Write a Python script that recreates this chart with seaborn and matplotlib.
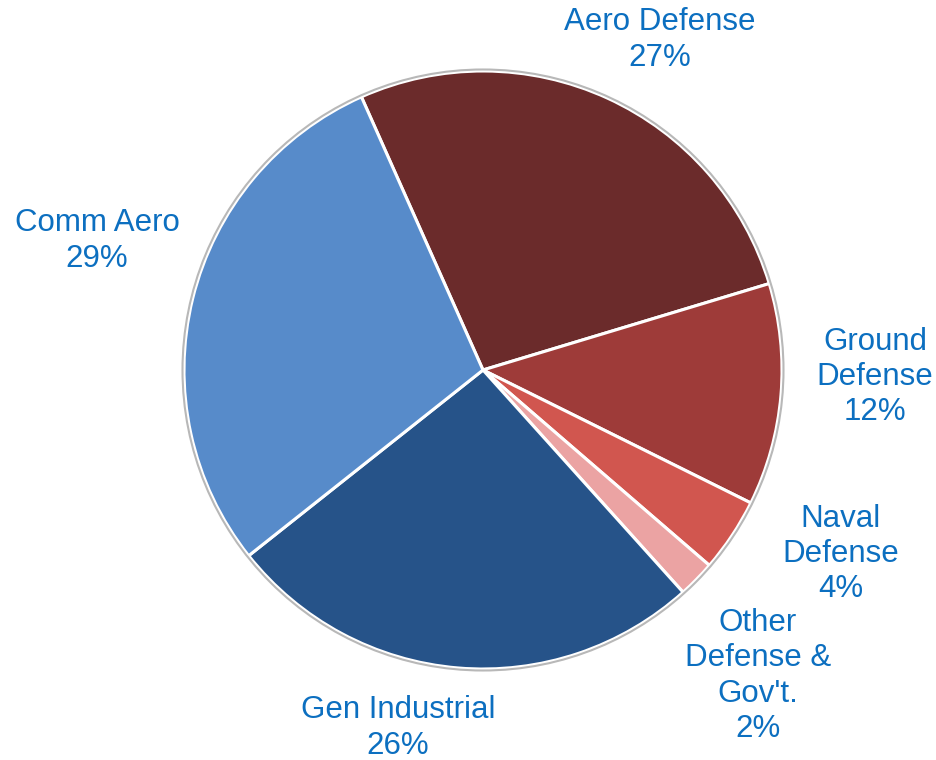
import matplotlib
matplotlib.use("Agg")
import matplotlib.pyplot as plt
import seaborn as sns

sns.set_theme(style="white")
plt.rcParams['font.family'] = ['Liberation Sans', 'DejaVu Sans']

categories = ["Aero Defense", "Ground Defense", "Naval Defense",
              "Other Defense & Gov't.", "Gen Industrial", "Comm Aero"]
values = [27, 12, 4, 2, 26, 29]
label_texts = ["Aero Defense\n27%", "Ground\nDefense\n12%", "Naval\nDefense\n4%",
               "Other\nDefense &\nGov't.\n2%", "Gen Industrial\n26%", "Comm Aero\n29%"]
colors = ["#6B2B2B", "#9E3B39", "#D1564F", "#EBA3A3", "#265389", "#578BCA"]

# label anchor positions (pixel coordinates, layout only)
label_pos = [(660, 720), (875, 383), (841, 206), (758, 84), (398, 32), (97, 519)]

fig = plt.figure(figsize=(9.37, 7.6), dpi=100)
ax = fig.add_axes([0, 0, 1, 1])

cx, cy, r = 483, 390, 299
wedges, _ = ax.pie(values, colors=colors, startangle=114, counterclock=False,
                   center=(cx, cy), radius=r, frame=True,
                   wedgeprops=dict(edgecolor="white", linewidth=2.2))
circle = plt.Circle((cx, cy), r + 1.5, fill=False, edgecolor="#B8B8B8", linewidth=1.5)
ax.add_patch(circle)
ax.set_xlim(0, 937)
ax.set_ylim(0, 760)
ax.set_aspect('equal')
ax.axis('off')

for txt, (x, y) in zip(label_texts, label_pos):
    ax.text(x, y, txt, ha="center", va="center", fontsize=22.5,
            color="#0C6FC0", linespacing=1.22)

fig.savefig("out.png", dpi=100)
